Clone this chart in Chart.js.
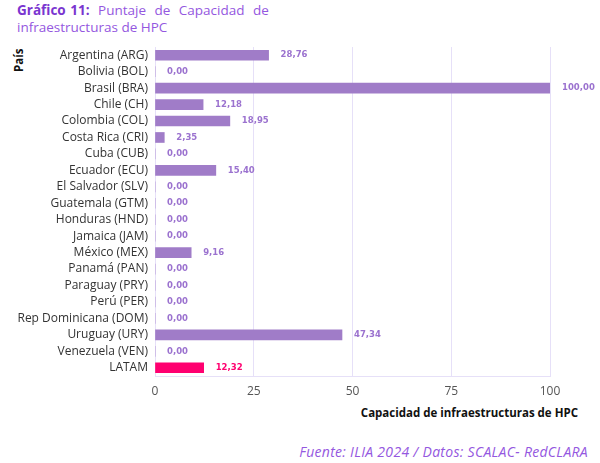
<!DOCTYPE html>
<html><head><meta charset="utf-8">
<script src="https://cdn.jsdelivr.net/npm/chart.js@4"></script>
<style>
html,body{margin:0;padding:0;background:#fff;}
#wrap{position:relative;width:600px;height:463px;overflow:hidden;font-family:"Open Sans",sans-serif;}
#c{position:absolute;left:0;top:0;}
.t{position:absolute;left:17px;font-size:13.5px;color:#9457e0;line-height:17px;}
#yt{position:absolute;left:11px;top:72px;transform:rotate(-90deg);transform-origin:left top;font-weight:bold;font-size:11.5px;color:#111;}
#xt{position:absolute;right:22px;top:405px;font-weight:bold;font-size:11.5px;color:#111;}
#src{position:absolute;right:12px;top:442px;font-style:italic;font-size:14px;letter-spacing:0.3px;color:#9457e0;}
</style></head>
<body><div id="wrap">
<div class="t" style="top:2px;word-spacing:5px"><b style="color:#7a35d0;word-spacing:1px">Gráfico 11:</b> Puntaje de Capacidad de</div>
<div class="t" style="top:19px">infraestructuras de HPC</div>
<div id="yt">País</div>
<div id="xt">Capacidad de infraestructuras de HPC</div>
<div id="src">Fuente: ILIA 2024 / Datos: SCALAC- RedCLARA</div>
<canvas id="c" width="600" height="463"></canvas>
</div>
<script>
const categories = ["Argentina (ARG)","Bolivia (BOL)","Brasil (BRA)","Chile (CH)","Colombia (COL)","Costa Rica (CRI)","Cuba (CUB)","Ecuador (ECU)","El Salvador (SLV)","Guatemala (GTM)","Honduras (HND)","Jamaica (JAM)","México (MEX)","Panamá (PAN)","Paraguay (PRY)","Perú (PER)","Rep Dominicana (DOM)","Uruguay (URY)","Venezuela (VEN)","LATAM"];
const values = [28.76,0,100,12.18,18.95,2.35,0,15.40,0,0,0,0,9.16,0,0,0,0,47.34,0,12.32];
const xTicks = [0,25,50,75,100];
const purple = "#a07cc8", pink = "#ff0070";
const colors = categories.map(c => c === "LATAM" ? pink : purple);
const labelColors = categories.map(c => c === "LATAM" ? pink : "#9b72cf");

const labelPlugin = {
  id:'vlabels',
  afterDatasetsDraw(chart){
    const ctx = chart.ctx;
    const meta = chart.getDatasetMeta(0);
    ctx.save();
    ctx.font = "bold 8.5px 'DejaVu Sans', sans-serif";
    ctx.textBaseline = "middle";
    ctx.textAlign = "left";
    meta.data.forEach((bar,i)=>{
      ctx.fillStyle = labelColors[i];
      ctx.fillText(values[i].toFixed(2).replace('.',','), bar.x + 12, bar.y);
    });
    ctx.restore();
  }
};

new Chart(document.getElementById('c'),{
  type:'bar',
  data:{labels:categories,datasets:[{data:values,backgroundColor:colors,barThickness:10,borderWidth:0}]},
  options:{
    indexAxis:'y',responsive:false,animation:false,devicePixelRatio:1,
    layout:{padding:{left:0,top:47,right:50,bottom:0}},
    plugins:{legend:{display:false},tooltip:{enabled:false}},
    scales:{
      x:{min:0,max:100,
        afterBuildTicks(s){s.ticks = xTicks.map(v=>({value:v}));},
        afterFit(s){s.height = 87;},
        grid:{color:"#e6e0f8",drawTicks:false},
        border:{color:"#e6e0f8"},
        ticks:{padding:8,color:"#555",font:{size:12,family:"'Open Sans', sans-serif"}}
      },
      y:{
        afterFit(s){s.width = 155;},
        grid:{display:false,drawTicks:false},
        border:{color:"#e6e0f8"},
        ticks:{padding:7,color:"#333",autoSkip:false,font:{size:12,family:"'Open Sans', sans-serif"}}
      }
    }
  },
  plugins:[labelPlugin]
});
</script>
</body></html>
